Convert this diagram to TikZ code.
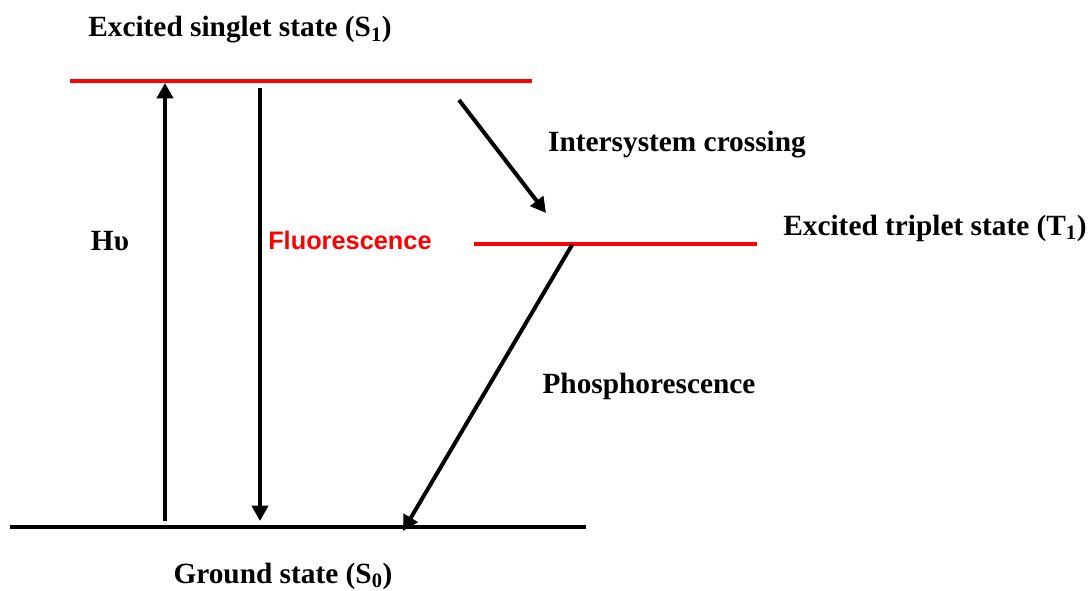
\documentclass[tikz,border=0pt]{standalone}
\usepackage{fontspec}
\setmainfont{Liberation Serif}
\newfontfamily\arialfont{Liberation Sans}
\usetikzlibrary{arrows.meta, positioning}

\begin{document}
\begin{tikzpicture}[x=0.75pt, y=-0.75pt, >={Triangle[length=11.5pt, width=12pt]},
		level/.style={line width=3pt},
		trans/.style={->, line width=3pt, black},
		lbl/.style={font=\fontsize{22}{26}\selectfont\bfseries, inner sep=0pt}]
		
		\useasboundingbox (0,0) rectangle (1089,591);
		
		% Niveles
		\coordinate (s1l) at (70,81);
		\coordinate (s1r) at (532,81);
		\coordinate (t1l) at (474,244);
		\coordinate (t1r) at (757,244);
		\coordinate (s0l) at (10,527);
		\coordinate (s0r) at (586,527);
		
		\draw[level, red] (s1l) -- (s1r);
		\draw[level, red] (t1l) -- (t1r);
		\draw[level, black] (s0l) -- (s0r);
		
		% Extremos de las flechas
		\coordinate (absb) at (165,521);
		\coordinate (abst) at (165,83);
		\coordinate (fluot) at (260,88);
		\coordinate (fluob) at (260,521);
		\coordinate (iscs) at (459,100);
		\coordinate (isce) at (546,213);
		\coordinate (phos) at (572,245);
		\coordinate (phoe) at (403,531);
		
		% Titulos
		\node[lbl] (s1) at (240,30) {Excited singlet state (S\textsubscript{1})};
		\node[lbl] (t1) at (935,228) {Excited triplet state (T\textsubscript{1})};
		\node[lbl] (s0) at (283,576) {Ground state (S\textsubscript{0})};
		\node[lbl] (isc) at (677,145) {Intersystem crossing};
		\node[lbl] (hv) at (110,241) {Hυ};
		\node[lbl, font=\arialfont\fontsize{19}{23}\selectfont\bfseries, text=red, anchor=west] (fluo) at (268,240) {Fluorescence};
		\node[lbl] (pho) at (649,386) {Phosphorescence};
		
		% Transiciones
		\draw[trans] (absb) -- (abst);
		\draw[trans] (fluot) -- (fluob);
		\draw[trans] (iscs) -- (isce);
		\draw[trans] (phos) -- (phoe);
		
	\end{tikzpicture}
\end{document}
